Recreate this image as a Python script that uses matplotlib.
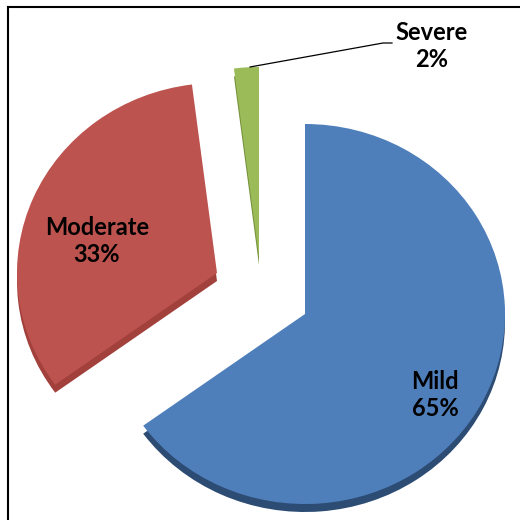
import numpy as np
import matplotlib.pyplot as plt
from matplotlib.patches import Wedge
from matplotlib.transforms import Affine2D

# Severity shares (percent)
categories = ["Mild", "Moderate", "Severe"]
values = [65, 33, 2]
labels = ["Mild\n65%", "Moderate\n33%", "Severe\n2%"]

colors = ["#4f7fbb", "#bd534f", "#9bbb59"]
side_colors = ["#2d4c74", "#a2403c", "#76923c"]

# exploded slice centres, in pixel-like coords (y up)
centers = [(305, 206), (217, 247), (259, 263)]
label_pos = [(435, 125), (97, 279), (432, 474)]
radius = 200
squash = 0.95
depth = 8

fig = plt.figure(figsize=(5.2, 5.2), dpi=100)
ax = fig.add_axes([0, 0, 1, 1])
ax.set_xlim(0, 520)
ax.set_ylim(0, 520)
ax.axis("off")

# clockwise from 12 o'clock, like Excel
angles = 90 - np.concatenate([[0], np.cumsum(values)]) * 3.6

for i, v in enumerate(values):
    t1, t2 = angles[i + 1], angles[i]
    cx, cy = centers[i]
    # side face (darker, shifted down)
    tr = Affine2D().scale(1, squash).translate(cx, cy - depth) + ax.transData
    ax.add_patch(Wedge((0, 0), radius, t1, t2, facecolor=side_colors[i],
                       edgecolor="none", transform=tr))
    tr = Affine2D().scale(1, squash).translate(cx, cy) + ax.transData
    ax.add_patch(Wedge((0, 0), radius, t1, t2, facecolor=colors[i],
                       edgecolor="none", transform=tr))

for (x, y), txt in zip(label_pos, labels):
    ax.text(x, y, txt, ha="center", va="center", fontsize=17,
            fontweight="bold", family="Lato", linespacing=1.2, color="black")

# leader line for the small slice
ax.plot([250, 383, 392], [520 - 67, 520 - 43, 520 - 43], color="black", lw=0.9)

# frame (left and top only visible)
ax.plot([8, 8], [0, 513], color="black", lw=1.5)
ax.plot([8, 520], [513, 513], color="black", lw=1.5)

fig.savefig("out.png", dpi=100)
